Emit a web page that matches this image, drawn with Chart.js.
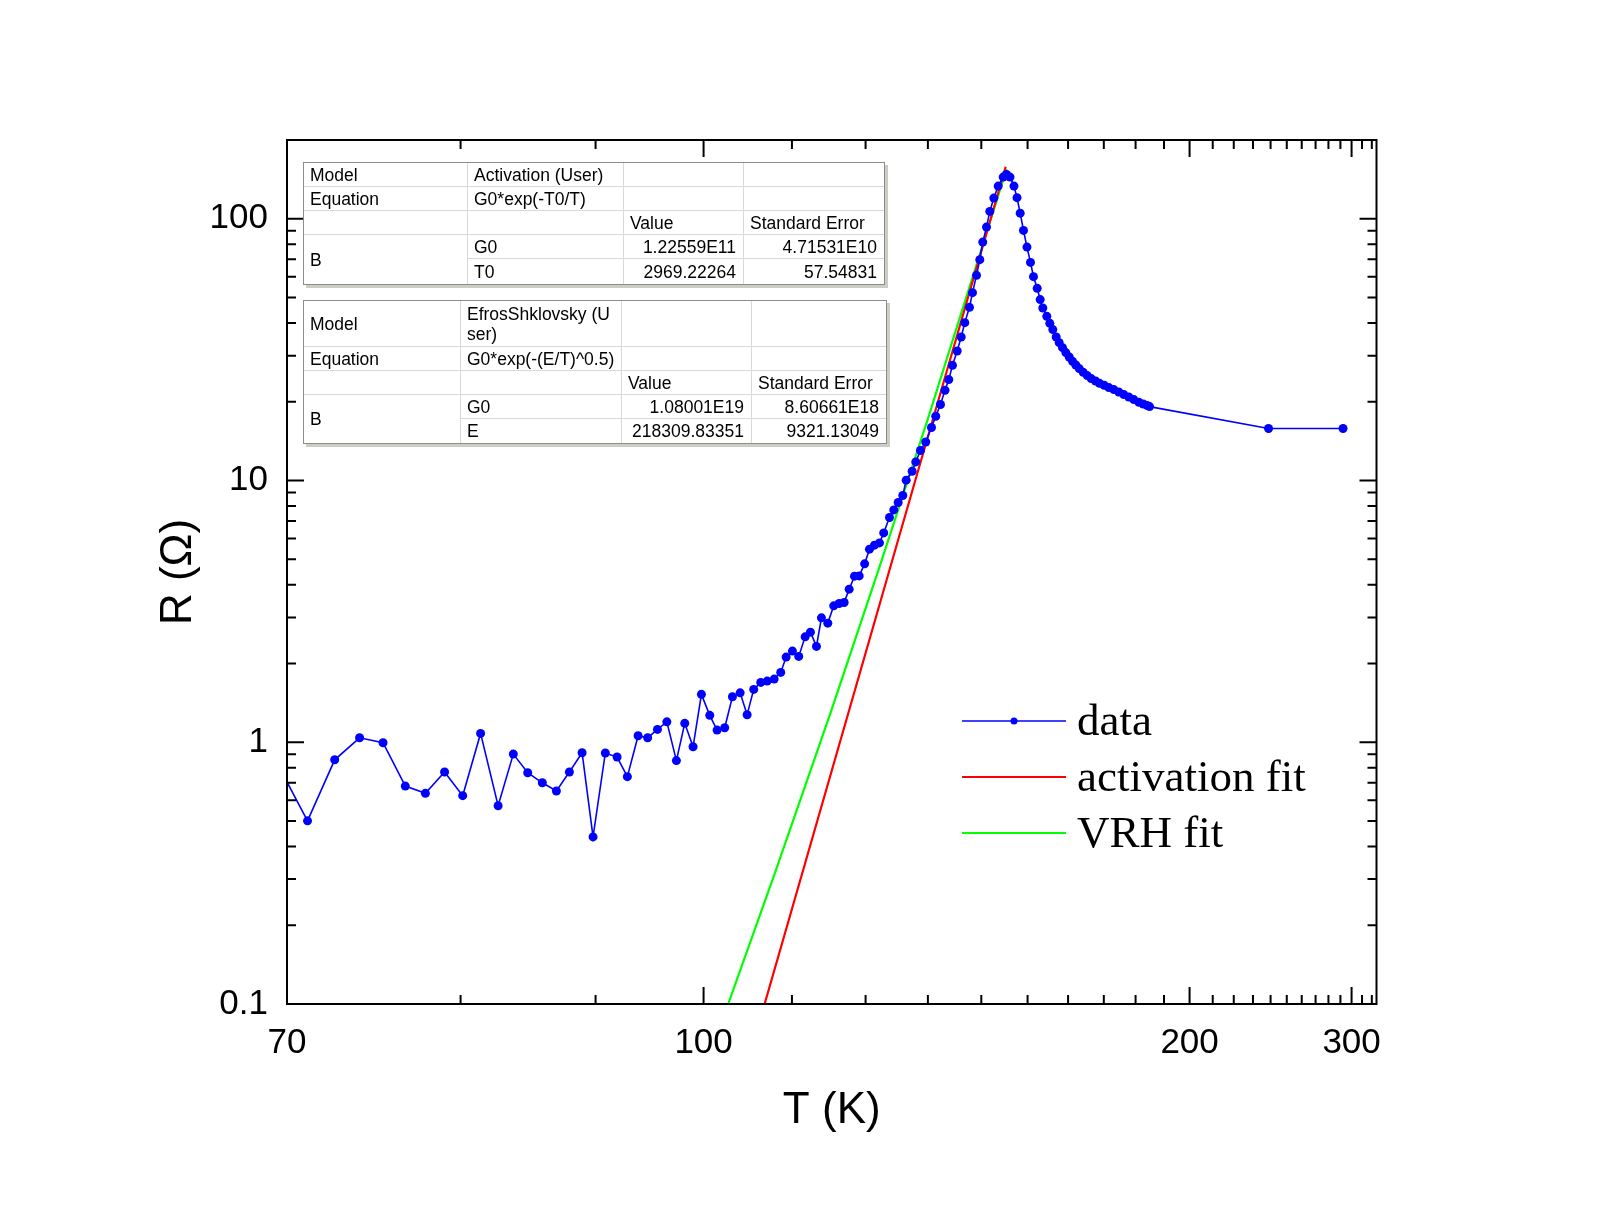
<!DOCTYPE html>
<html lang="en">
<head>
<meta charset="utf-8">
<script src="https://cdn.jsdelivr.net/npm/chart.js@4.4.1/dist/chart.umd.min.js"></script>
<style>
  body { margin: 0; background: #fff; }
  #wrap { position: relative; width: 1600px; height: 1205px; }
  .fitbox { position: absolute; border: 1px solid #8c8c8c; box-shadow: 3px 3px 0 #cdcdc6; background: #fff; }
  .fitbox table { border-collapse: separate; border-spacing: 0; table-layout: fixed;
                  font: 17.5px 'Liberation Sans', Arial, sans-serif; color: #000; }
  .fitbox td { border-right: 1px solid #d8d8d8; border-bottom: 1px solid #d8d8d8;
               padding: 0 6px; white-space: nowrap; overflow: hidden; line-height: 20px; }
  .fitbox td.n { text-align: right; padding-right: 7px; }
  .fitbox td.lc { border-right: none; }
  .fitbox tr.lr td, .fitbox td.lb { border-bottom: none; }
</style>
</head>
<body>
<div id="wrap">
  <canvas id="chart" width="1600" height="1205"></canvas>

  <div class="fitbox" style="left:303px; top:162px; width:580px;">
    <table style="width:580px">
      <colgroup><col style="width:164px"><col style="width:156px"><col style="width:120px"><col style="width:140px"></colgroup>
      <tr style="height:24px"><td>Model</td><td>Activation (User)</td><td></td><td class="lc"></td></tr>
      <tr style="height:24px"><td>Equation</td><td>G0*exp(-T0/T)</td><td></td><td class="lc"></td></tr>
      <tr style="height:24px"><td></td><td></td><td>Value</td><td class="lc">Standard Error</td></tr>
      <tr style="height:24px"><td rowspan="2" class="lb">B</td><td>G0</td><td class="n">1.22559E11</td><td class="n lc">4.71531E10</td></tr>
      <tr style="height:25px" class="lr"><td>T0</td><td class="n">2969.22264</td><td class="n lc">57.54831</td></tr>
    </table>
  </div>

  <div class="fitbox" style="left:303px; top:300px; width:582px;">
    <table style="width:582px">
      <colgroup><col style="width:157px"><col style="width:161px"><col style="width:130px"><col style="width:134px"></colgroup>
      <tr style="height:46px"><td>Model</td><td>EfrosShklovsky (U<br>ser)</td><td></td><td class="lc"></td></tr>
      <tr style="height:24px"><td>Equation</td><td>G0*exp(-(E/T)^0.5)</td><td></td><td class="lc"></td></tr>
      <tr style="height:24px"><td></td><td></td><td>Value</td><td class="lc">Standard Error</td></tr>
      <tr style="height:24px"><td rowspan="2" class="lb">B</td><td>G0</td><td class="n">1.08001E19</td><td class="n lc">8.60661E18</td></tr>
      <tr style="height:24px" class="lr"><td>E</td><td class="n">218309.83351</td><td class="n lc">9321.13049</td></tr>
    </table>
  </div>
</div>

<script>
// measured data, T in K and R in ohm
var tempK = [69.5, 71.05, 72.49, 73.86, 75.20, 76.52, 77.75, 78.96, 80.14, 81.34,
  82.55, 83.63, 84.68, 85.77, 86.85, 87.87, 88.89, 89.79, 90.82, 91.83,
  92.73, 93.69, 94.56, 95.47, 96.36, 97.28, 98.10, 98.93, 99.78, 100.64,
  101.41, 102.22, 103.06, 103.91, 104.69, 105.44, 106.25, 107.00, 107.83, 108.62,
  109.28, 110.06, 110.85, 111.67, 112.35, 113.14, 113.80, 114.65, 115.46, 116.21,
  116.91, 117.62, 118.38, 119.06, 119.86, 120.58, 121.33, 122.09, 122.75, 123.65,
  124.33, 125.03, 125.78, 126.33, 127.32, 127.93, 128.72, 129.63, 130.63, 131.38,
  132.23, 133.04, 133.74, 134.42, 135.30, 136.06, 136.75, 137.66, 138.25, 139.04,
  139.70, 140.30, 141.06, 141.74, 142.57, 143.49, 144.56, 145.27, 146.04, 146.92,
  147.59, 148.31, 149.06, 149.86, 150.68, 151.38, 152.26, 152.98, 153.61, 154.59,
  155.33, 156.08, 156.93, 157.70, 158.55, 159.41, 160.30, 161.18, 162.06, 162.99,
  164.09, 165.21, 166.33, 167.57, 168.73, 170.12, 171.50, 173.03, 174.58, 176.17,
  177.77, 179.42, 181.09, 182.58, 183.97, 184.78, 238.8, 292.3];
var resOhm = [0.833, 0.501, 0.857, 1.040, 0.996, 0.680, 0.638, 0.770, 0.625, 1.081,
  0.572, 0.901, 0.765, 0.700, 0.651, 0.770, 0.912, 0.435, 0.910, 0.878,
  0.739, 1.059, 1.040, 1.120, 1.197, 0.851, 1.181, 0.961, 1.524, 1.267,
  1.113, 1.136, 1.492, 1.545, 1.274, 1.592, 1.693, 1.713, 1.743, 1.849,
  2.115, 2.230, 2.128, 2.528, 2.635, 2.324, 2.988, 2.852, 3.320, 3.391,
  3.421, 3.846, 4.311, 4.322, 4.804, 5.466, 5.662, 5.777, 6.308, 7.224,
  7.722, 8.241, 8.763, 10.03, 10.85, 11.78, 13.02, 14.04, 15.94, 17.60,
  19.51, 22.12, 24.30, 27.55, 31.24, 35.34, 40.11, 45.88, 52.22, 60.79,
  69.79, 81.47, 92.96, 106.7, 120.0, 133.3, 144.3, 147.7, 144.3, 133.3,
  120.4, 105.1, 90.3, 77.98, 68.15, 60.09, 54.24, 49.11, 45.60, 42.39,
  39.86, 37.72, 35.34, 33.64, 32.19, 30.81, 29.64, 28.54, 27.63, 26.77,
  25.91, 25.17, 24.52, 24.01, 23.52, 23.12, 22.65, 22.26, 21.79, 21.30,
  20.85, 20.38, 19.91, 19.61, 19.34, 19.16, 15.81, 15.81];

// fit curves
var actT = [106.7, 125, 145.1];
var actR = [0.1, 5.9, 158];
var vrhT = [102.6, 108, 115, 122, 130, 138, 145.3];
var vrhR = [0.1, 0.322, 1.29, 4.60, 17.2, 57.6, 155];

// axis ticks
var xTicks = [70, 80, 90, 100, 110, 120, 130, 140, 150, 160, 170, 180, 190, 200,
  210, 220, 230, 240, 250, 260, 270, 280, 290, 300, 310, 320];
var xLabels = [70, 100, 200, 300];
var yTicks = [0.1, 0.2, 0.3, 0.4, 0.5, 0.6, 0.7, 0.8, 0.9, 1, 2, 3, 4, 5, 6, 7, 8, 9,
  10, 20, 30, 40, 50, 60, 70, 80, 90, 100, 200];
var yLabels = [0.1, 1, 10, 100];

var legendItems = ['data', 'activation fit', 'VRH fit'];

function pairs(xs, ys) {
  return xs.map(function(x, i) { return {x: x, y: ys[i]}; });
}

// x axis linear in 1/T, T growing to the right
class ReciprocalScale extends Chart.Scale {
  parse(raw, index) {
    var v = Chart.LinearScale.prototype.parse.apply(this, [raw, index]);
    return isFinite(v) && v > 0 ? v : null;
  }
  determineDataLimits() {
    var mm = this.getMinMax(true);
    this.min = mm.min;
    this.max = mm.max;
  }
  buildTicks() {
    return xTicks.map(function(v) { return {value: v}; });
  }
  configure() {
    super.configure();
    this._inv0 = 1 / this.min;
    this._invRange = 1 / this.min - 1 / this.max;
  }
  getPixelForValue(value) {
    return this.getPixelForDecimal((this._inv0 - 1 / value) / this._invRange);
  }
  getValueForPixel(pixel) {
    return 1 / (this._inv0 - this.getDecimalForPixel(pixel) * this._invRange);
  }
  getLabelForValue(value) { return String(value); }
}
ReciprocalScale.id = 'reciprocal';
ReciprocalScale.defaults = {};
Chart.register(ReciprocalScale);

Chart.defaults.font.family = "'Liberation Sans', Arial, sans-serif";
Chart.defaults.color = '#000';

// frame and inward ticks on all four sides
var frameTicks = {
  id: 'frameTicks',
  afterDatasetsDraw: function(chart) {
    var ctx = chart.ctx, a = chart.chartArea;
    var xs = chart.scales.x, ys = chart.scales.y;
    ctx.save();
    ctx.strokeStyle = '#000';
    ctx.lineWidth = 2;
    ctx.beginPath();
    xTicks.forEach(function(v) {
      var p = xs.getPixelForValue(v);
      var len = xLabels.indexOf(v) >= 0 ? 17 : 9;
      ctx.moveTo(p, a.bottom); ctx.lineTo(p, a.bottom - len);
      ctx.moveTo(p, a.top); ctx.lineTo(p, a.top + len);
    });
    yTicks.forEach(function(v) {
      var p = ys.getPixelForValue(v);
      var len = yLabels.indexOf(v) >= 0 ? 17 : 9;
      ctx.moveTo(a.left, p); ctx.lineTo(a.left + len, p);
      ctx.moveTo(a.right, p); ctx.lineTo(a.right - len, p);
    });
    ctx.stroke();
    ctx.strokeRect(a.left, a.top, a.right - a.left, a.bottom - a.top);
    ctx.restore();
  }
};

// legend drawn inside the plot
var plotLegend = {
  id: 'plotLegend',
  afterDraw: function(chart) {
    var ctx = chart.ctx;
    var x0 = 962, x1 = 1066, rowY = [721, 777, 833];
    ctx.save();
    chart.data.datasets.forEach(function(ds, i) {
      ctx.strokeStyle = ds.borderColor;
      ctx.lineWidth = ds.borderWidth;
      ctx.beginPath();
      ctx.moveTo(x0, rowY[i]); ctx.lineTo(x1, rowY[i]);
      ctx.stroke();
      if (ds.pointRadius > 0) {
        ctx.fillStyle = ds.pointBackgroundColor;
        ctx.beginPath();
        ctx.arc((x0 + x1) / 2, rowY[i], 3.5, 0, Math.PI * 2);
        ctx.fill();
      }
      ctx.fillStyle = '#000';
      ctx.font = "45px 'Liberation Serif', 'Times New Roman', serif";
      ctx.textBaseline = 'alphabetic';
      ctx.fillText(legendItems[i], 1077, rowY[i] + 14);
    });
    ctx.restore();
  }
};

new Chart(document.getElementById('chart'), {
  type: 'line',
  data: {
    datasets: [{
      label: legendItems[0],
      data: pairs(tempK, resOhm),
      borderColor: '#0000ff',
      borderWidth: 1.6,
      pointRadius: 4.5,
      pointBorderWidth: 0,
      pointBackgroundColor: '#0000ff',
      tension: 0
    }, {
      label: legendItems[1],
      data: pairs(actT, actR),
      borderColor: '#ff0000',
      borderWidth: 2.2,
      pointRadius: 0
    }, {
      label: legendItems[2],
      data: pairs(vrhT, vrhR),
      borderColor: '#00ff00',
      borderWidth: 2.2,
      pointRadius: 0
    }]
  },
  options: {
    responsive: false,
    animation: false,
    events: [],
    layout: { padding: { left: 0, right: 223.5, top: 140, bottom: 0 } },
    plugins: { legend: { display: false }, tooltip: { enabled: false } },
    scales: {
      x: {
        type: 'reciprocal',
        position: 'bottom',
        min: 70,
        max: 325,
        grid: { display: false },
        border: { display: false },
        ticks: {
          autoSkip: false, maxRotation: 0, padding: 10,
          font: { size: 35 },
          callback: function(v) { return xLabels.indexOf(v) >= 0 ? String(v) : ''; }
        },
        title: { display: true, text: 'T (K)', font: { size: 44 }, padding: { top: 0, bottom: 68 } },
        afterFit: function(s) { s.height = 201; }
      },
      y: {
        type: 'logarithmic',
        min: 0.1,
        max: 200,
        grid: { display: false },
        border: { display: false },
        afterBuildTicks: function(s) {
          s.ticks = yTicks.map(function(v) { return {value: v}; });
        },
        ticks: {
          autoSkip: false, padding: 11,
          font: { size: 35 },
          callback: function(v) { return yLabels.indexOf(v) >= 0 ? String(v) : ''; }
        },
        title: { display: true, text: 'R (Ω)', font: { size: 44 }, padding: { top: 152, bottom: 0 } },
        afterFit: function(s) { s.width = 287; }
      }
    }
  },
  plugins: [frameTicks, plotLegend]
});
</script>
</body>
</html>
